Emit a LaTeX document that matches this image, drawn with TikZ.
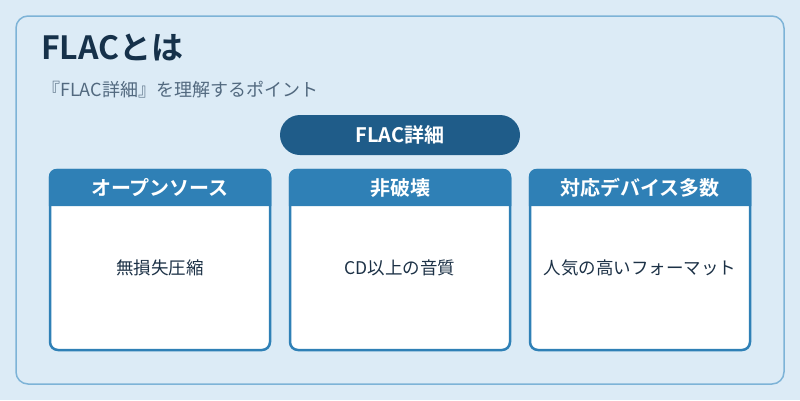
\documentclass[tikz,border=0pt]{standalone}
\usepackage{fontspec}
\setmainfont{Noto Sans CJK JP}[BoldFont={Noto Sans CJK JP Bold}]
\usetikzlibrary{positioning}

\definecolor{pagebg}{HTML}{DCEBF6}
\definecolor{panelrim}{HTML}{7DB3D7}
\definecolor{titleink}{HTML}{16314A}
\definecolor{subink}{HTML}{52697F}
\definecolor{pillblue}{HTML}{1F5C89}
\definecolor{cardblue}{HTML}{2F80B6}
\definecolor{bodyink}{HTML}{1C3146}

\begin{document}
\begin{tikzpicture}[x=1pt,y=-1pt,
	panel/.style={draw=panelrim, line width=1.5pt, fill=pagebg, rounded corners=12pt,
		minimum width=768pt, minimum height=368pt, inner sep=0pt},
	pill/.style={fill=pillblue, rounded corners=20pt, minimum width=240pt,
		minimum height=40pt, text=white, font=\bfseries\fontsize{20}{23}\selectfont},
	cardbody/.style={draw=cardblue, line width=2.5pt, fill=white, rounded corners=8pt,
		minimum width=220pt, minimum height=180pt, inner sep=0pt},
	headtext/.style={text=white, font=\bfseries\fontsize{20}{23}\selectfont},
	bodytext/.style={text=bodyink, font=\fontsize{17.5}{20}\selectfont}]
	\useasboundingbox (0,0) rectangle (800,400);
	\fill[pagebg] (0,0) rectangle (800,400);
	\node[panel] (frame) at (400,200) {};
	% heading
	\node[anchor=base west, text=titleink, font=\bfseries\fontsize{32}{36}\selectfont, inner sep=0pt]
		(title) at (41,59) {FLACとは};
	\node[anchor=base west, text=subink, font=\fontsize{18}{21}\selectfont, inner sep=0pt]
		(subtitle) at (42,96) {『FLAC詳細』を理解するポイント};
	\node[pill] (detail) at (400,135) {FLAC詳細};
	% cards
		\node[cardbody] (opensrc) at (160,260) {};
		\node[cardbody] (lossless) at (400,260) {};
		\node[cardbody] (devices) at (640,260) {};
		\fill[cardblue, rounded corners=8pt] (48.75,206) -- (48.75,168.75) -- (271.25,168.75) -- (271.25,206);
		\fill[cardblue, rounded corners=8pt] (288.75,206) -- (288.75,168.75) -- (511.25,168.75) -- (511.25,206);
		\fill[cardblue, rounded corners=8pt] (528.75,206) -- (528.75,168.75) -- (751.25,168.75) -- (751.25,206);
		\node[headtext] (opensrcHead) at (160,188) {オープンソース};
		\node[headtext] (losslessHead) at (400,188) {非破壊};
		\node[headtext] (devicesHead) at (640,188) {対応デバイス多数};
		\node[bodytext] (opensrcText) at (160,268) {無損失圧縮};
		\node[bodytext] (losslessText) at (400,268) {CD以上の音質};
		\node[bodytext] (devicesText) at (640,268) {人気の高いフォーマット};
\end{tikzpicture}
\end{document}
